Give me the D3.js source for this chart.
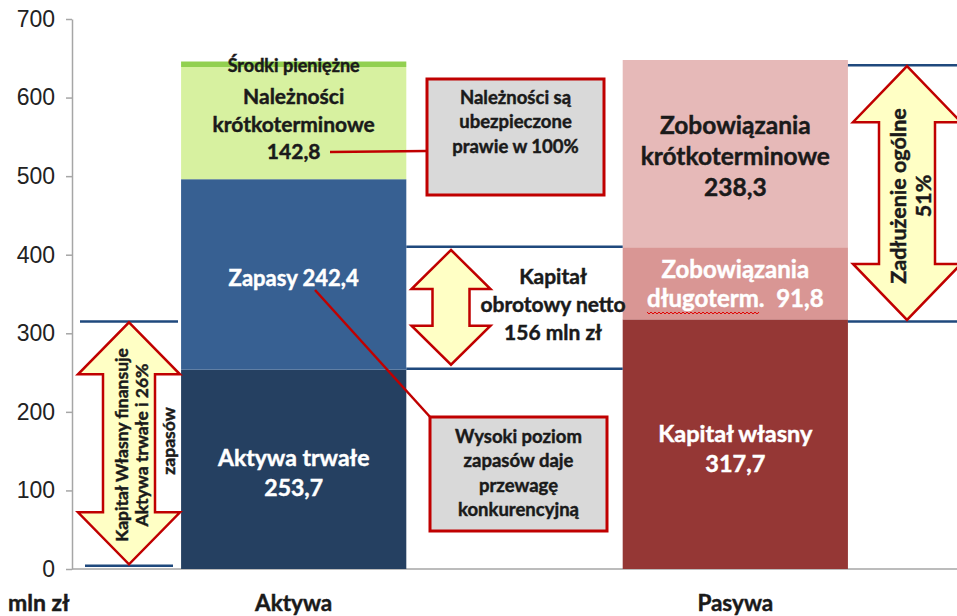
<!DOCTYPE html>
<html>
<head>
<meta charset="utf-8">
<script src="https://cdn.jsdelivr.net/npm/d3@7"></script>
<style>
  body { margin: 0; background: #fff; }
  text { font-family: Lato, "Open Sans", sans-serif; font-weight: bold; }
</style>
</head>
<body>
<script>
// --- data ---
const sides = ["Aktywa", "Pasywa"];

const aktywaNames  = ["Aktywa trwałe", "Zapasy", "Należności krótkoterminowe", "Środki pieniężne"];
const aktywaValues = [253.7, 242.4, 142.8, 7.0];
const aktywaColors = ["#254061", "#376092", "#D7F1A0", "#92D050"];

const pasywaNames  = ["Kapitał własny", "Zobowiązania długoterm.", "Zobowiązania krótkoterminowe"];
const pasywaValues = [317.7, 91.8, 238.3];
const pasywaColors = ["#953735", "#D99694", "#E6B9B8"];

const yTicks = [0, 100, 200, 300, 400, 500, 600, 700];

// levels (mln zł) of the dark blue guide lines
const guideLevels = [315, 4, 410, 255, 641, 315];

const width = 957, height = 616;

const svg = d3.select("body").append("svg")
    .attr("width", width)
    .attr("height", height);

const y = d3.scaleLinear()
    .domain([0, 700])
    .range([569, 19]);

const x = d3.scaleBand()
    .domain(sides)
    .range([72, 957])
    .paddingInner(0.49)
    .paddingOuter(0.247);

const bw = x.bandwidth();

// y axis
const yAxis = d3.axisLeft(y)
    .tickValues(yTicks)
    .tickSize(6)
    .tickSizeOuter(0)
    .tickPadding(11);

const gy = svg.append("g")
    .attr("transform", "translate(72,0)")
    .call(yAxis);
gy.select(".domain").attr("stroke", "#A6A6A6").attr("stroke-width", 1.5);
gy.selectAll(".tick line").attr("stroke", "#A6A6A6").attr("stroke-width", 1.5);
gy.selectAll(".tick text")
    .style("font-family", "'Liberation Sans', Arial, sans-serif")
    .style("font-weight", "normal")
    .attr("font-size", 23)
    .attr("fill", "#222");

// baseline
svg.append("line")
    .attr("x1", 72).attr("x2", width)
    .attr("y1", y(0)).attr("y2", y(0))
    .attr("stroke", "#A6A6A6").attr("stroke-width", 1.5);

// stacked bars
function stack(names, values, colors) {
  const ends = d3.cumsum(values);
  return names.map((n, i) => ({ name: n, v0: ends[i] - values[i], v1: ends[i], color: colors[i] }));
}
const aktywa = stack(aktywaNames, aktywaValues, aktywaColors);
const pasywa = stack(pasywaNames, pasywaValues, pasywaColors);

svg.append("g").selectAll("rect")
    .data(aktywa)
    .enter().append("rect")
    .attr("x", x("Aktywa"))
    .attr("width", bw)
    .attr("y", d => y(d.v1))
    .attr("height", d => y(d.v0) - y(d.v1))
    .attr("fill", d => d.color);

svg.append("g").selectAll("rect")
    .data(pasywa)
    .enter().append("rect")
    .attr("x", x("Pasywa"))
    .attr("width", bw)
    .attr("y", d => y(d.v1))
    .attr("height", d => y(d.v0) - y(d.v1))
    .attr("fill", d => d.color);

// guide lines
const aRight = x("Aktywa") + bw, pLeft = x("Pasywa"), pRight = x("Pasywa") + bw;
const guideX = [[80, 178], [85, 173], [aRight, pLeft], [aRight, pLeft], [pRight, width], [pRight, width]];
svg.append("g").selectAll("line")
    .data(guideLevels)
    .enter().append("line")
    .attr("x1", (d, i) => guideX[i][0])
    .attr("x2", (d, i) => guideX[i][1])
    .attr("y1", d => y(d))
    .attr("y2", d => y(d))
    .attr("stroke", "#1F497D")
    .attr("stroke-width", 2.5);

// double arrows
function arrowPath(cx, yTop, yBot, hw, sw, hl) {
  return `M${cx},${yTop} L${cx + hw},${yTop + hl} L${cx + sw},${yTop + hl} L${cx + sw},${yBot - hl}` +
         ` L${cx + hw},${yBot - hl} L${cx},${yBot} L${cx - hw},${yBot - hl} L${cx - sw},${yBot - hl}` +
         ` L${cx - sw},${yTop + hl} L${cx - hw},${yTop + hl} Z`;
}
const arrows = [
  { cx: 129, top: 314, bot: 6,   hw: 51,   sw: 26,   hl: 52 },
  { cx: 451, top: 406, bot: 260, hw: 39.5, sw: 18.5, hl: 39 },
  { cx: 907, top: 640, bot: 317, hw: 54,   sw: 28,   hl: 56 }
];
svg.append("g").selectAll("path")
    .data(arrows)
    .enter().append("path")
    .attr("d", d => arrowPath(d.cx, y(d.top), y(d.bot), d.hw, d.sw, d.hl))
    .attr("fill", "#FFFFC5")
    .attr("stroke", "#C00000")
    .attr("stroke-width", 2.5)
    .attr("stroke-linejoin", "miter");

// callout connectors
svg.append("line")
    .attr("x1", 330).attr("y1", 152).attr("x2", 427).attr("y2", 151)
    .attr("stroke", "#C00000").attr("stroke-width", 2.5);
svg.append("line")
    .attr("x1", 315).attr("y1", 290).attr("x2", 431).attr("y2", 418)
    .attr("stroke", "#C00000").attr("stroke-width", 2.5);

// text helper (slight stroke to get Calibri-like weight)
function bold(sel, color) {
  return sel.attr("fill", color).attr("stroke", color).attr("stroke-width", 0.45);
}

// callout boxes
const boxes = [
  { x: 427, y: 79,  w: 177, h: 116, lines: ["Należności są", "ubezpieczone", "prawie w 100%"], y0: 104 },
  { x: 430, y: 417, w: 177, h: 114, lines: ["Wysoki poziom", "zapasów daje", "przewagę", "konkurencyjną"], y0: 443 }
];
boxes.forEach(b => {
  svg.append("rect")
      .attr("x", b.x).attr("y", b.y).attr("width", b.w).attr("height", b.h)
      .attr("fill", "#D9D9D9").attr("stroke", "#C00000").attr("stroke-width", 3);
  bold(svg.append("g").selectAll("text")
      .data(b.lines)
      .enter().append("text")
      .attr("x", b.x + b.w / 2)
      .attr("y", (d, i) => b.y0 + i * 24.3)
      .attr("text-anchor", "middle")
      .attr("font-size", 18.5)
      .text(d => d), "#1a1a1a");
});

// labels
function label(lines, cx, y0, step, size, color) {
  bold(svg.append("g").selectAll("text")
      .data(lines)
      .enter().append("text")
      .attr("x", cx)
      .attr("y", (d, i) => y0 + i * step)
      .attr("text-anchor", "middle")
      .attr("font-size", size)
      .style("white-space", "pre")
      .text(d => d), color);
}
const ac = x("Aktywa") + bw / 2, pc = x("Pasywa") + bw / 2;

label(["Środki pieniężne"], ac, 72, 0, 18, "#1a1a1a");
label(["Należności", "krótkoterminowe", "142,8"], ac, 104, 27.5, 21, "#1a1a1a");
label(["Zapasy 242,4"], ac, 286, 0, 22, "#fff");
label(["Aktywa trwałe", "253,7"], ac, 466, 30, 23, "#fff");

label(["Zobowiązania", "krótkoterminowe", "238,3"], pc, 133.5, 31, 24.5, "#1a1a1a");
label(["Zobowiązania"], pc, 278, 0, 24, "#fff");
label(["Kapitał własny", "317,7"], pc, 441.5, 30, 23.5, "#fff");

// "długoterm.  91,8" with the spell-check underline
const dl = bold(svg.append("text")
    .attr("x", pc).attr("y", 307)
    .attr("text-anchor", "middle")
    .attr("font-size", 24)
    .style("white-space", "pre")
    .text("długoterm.  91,8"), "#fff");
const dlLen = dl.node().getComputedTextLength();
const ulStart = pc - dlLen / 2;
const ulEnd = ulStart + dl.node().getSubStringLength(0, 9);
let wave = `M${ulStart},312`;
for (let xx = ulStart, k = 0; xx < ulEnd; xx += 2, k++) wave += ` L${xx + 2},${k % 2 ? 312 : 314}`;
svg.append("path").attr("d", wave).attr("fill", "none").attr("stroke", "#E00000").attr("stroke-width", 1);

// Kapitał obrotowy netto
label(["Kapitał", "obrotowy netto", "156 mln zł"], 553, 284, 28, 21, "#1a1a1a");

// rotated arrow texts
function rotLabel(lines, xs, cy, size) {
  lines.forEach((t, i) => {
    bold(svg.append("text")
        .attr("transform", `translate(${xs[i]},${cy}) rotate(-90)`)
        .attr("text-anchor", "middle")
        .attr("font-size", size)
        .text(t), "#1a1a1a");
  });
}
rotLabel(["Kapitał Własny finansuje", "Aktywa trwałe i 26%"], [128, 148], 445, 17.5);
rotLabel(["zapasów"], [175], 441, 17.5);
rotLabel(["Zadłużenie ogólne", "51%"], [906, 931], 196, 21.5);

// bottom labels
bold(svg.append("text").attr("x", 8).attr("y", 611).attr("font-size", 23).text("mln zł"), "#1a1a1a");
bold(svg.append("g").selectAll("text")
    .data(sides)
    .enter().append("text")
    .attr("x", d => x(d) + bw / 2)
    .attr("y", 611)
    .attr("text-anchor", "middle")
    .attr("font-size", 22.5)
    .text(d => d), "#1a1a1a");
</script>
</body>
</html>
